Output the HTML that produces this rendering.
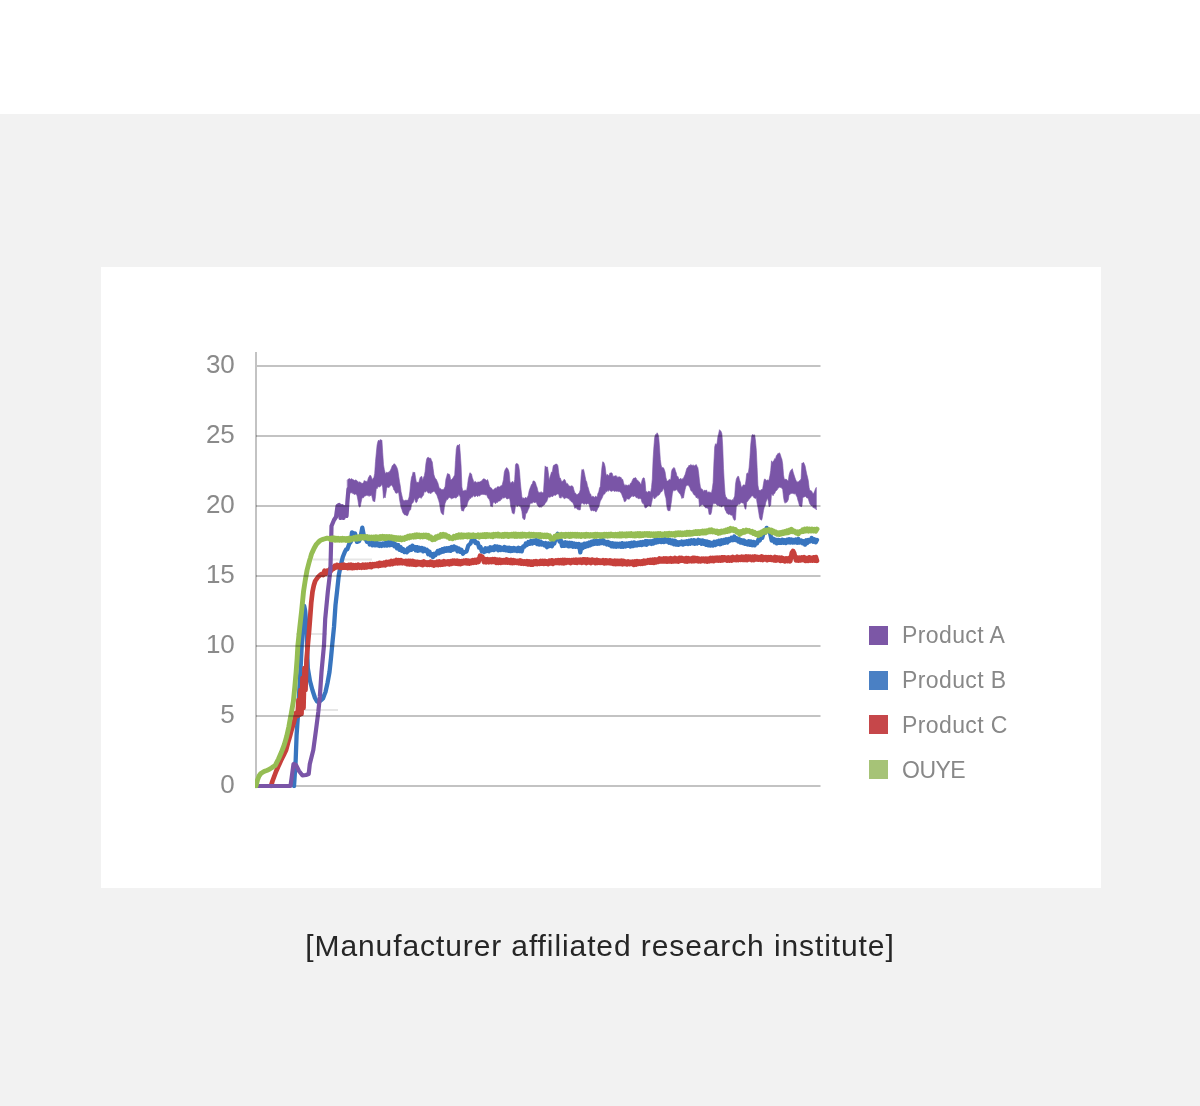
<!DOCTYPE html>
<html>
<head>
<meta charset="utf-8">
<title>Chart</title>
<style>
html,body{margin:0;padding:0;background:#ffffff;}
body{width:1200px;height:1106px;position:relative;overflow:hidden;font-family:"Liberation Sans",sans-serif;}
#band{position:absolute;left:0;top:114px;width:1200px;height:992px;background:#f2f2f2;}
#card{position:absolute;left:101px;top:267px;width:1000px;height:621px;background:#ffffff;}
#chart{position:absolute;left:0;top:0;width:1200px;height:1106px;}
.yl{position:absolute;width:60px;text-align:right;font-size:26px;line-height:30px;height:30px;color:#8a8a8a;left:174.8px;margin-top:-0.2px;}
.lg{position:absolute;left:869px;width:19px;height:19px;}
.lt{position:absolute;left:902px;font-size:23px;line-height:30px;height:30px;color:#888888;white-space:nowrap;letter-spacing:0.4px;margin-top:0.4px;}
#cap{position:absolute;left:0;width:1200px;top:926px;text-align:center;font-size:30px;line-height:40px;color:#262626;white-space:nowrap;letter-spacing:0.9px;}
</style>
</head>
<body>
<div id="band"></div>
<div id="card"></div>
<svg id="chart" width="1200" height="1106" viewBox="0 0 1200 1106">
  <g id="grid" stroke="#c3c3c3" stroke-width="2" fill="none">
    <line x1="256" y1="366" x2="820.5" y2="366"/>
    <line x1="256" y1="786" x2="820.5" y2="786"/>
    <line x1="256" y1="352" x2="256" y2="787"/>
  </g>
  <g id="ghost" stroke="#e6e6e6" stroke-width="2" fill="none">
    <line x1="313" y1="559.5" x2="372" y2="559.5"/>
    <line x1="296" y1="634" x2="327" y2="634"/>
    <line x1="304" y1="710" x2="338" y2="710"/>
  </g>
  <defs><clipPath id="cp"><rect x="255" y="340" width="570" height="448.2"/></clipPath><filter id="bl" x="-5%" y="-5%" width="110%" height="110%"><feGaussianBlur stdDeviation="0.7"/></filter></defs>
  <g id="curves" fill="none" stroke-linejoin="round" stroke-linecap="round" clip-path="url(#cp)" filter="url(#bl)">
    <polyline points="294.0,786.0 294.8,774.0 295.6,762.0 296.6,735.0 297.9,716.0 299.0,695.0 300.5,670.0 302.0,640.0 303.2,615.0 304.2,606.0 305.2,611.0 306.3,625.0 307.8,668.0 310.0,681.0 311.2,685.5 312.4,690.0 313.7,694.0 315.0,698.0 317.0,701.5 318.5,701.2 320.0,701.0 321.5,699.8 323.0,698.5 324.2,695.2 325.5,692.0 327.5,683.0 329.5,672.0 331.0,658.0 332.2,645.0 334.0,627.0 335.5,605.0 337.2,590.0 338.8,575.0 340.8,565.0 342.8,557.0 345.0,551.5 346.1,549.6 347.3,549.2 349.3,543.8 350.8,541.7 352.0,532.4 353.3,533.6 355.0,533.3 357.0,541.9 359.0,541.3 360.5,537.4 362.3,527.7 363.7,534.8 365.0,537.6 367.0,541.8 368.4,540.0 369.7,544.5 371.0,542.1 372.4,545.3 373.7,541.6 375.0,545.4 376.1,542.4 377.2,545.2 378.4,543.4 379.5,545.9 380.6,543.7 381.7,545.9 383.0,543.5 384.4,545.4 385.7,542.9 387.0,545.5 388.3,542.1 389.6,545.3 391.0,542.0 392.3,544.9 393.5,542.6 394.6,546.3 395.8,544.4 397.0,548.3 398.2,545.1 399.4,549.7 400.5,547.0 401.7,550.7 403.0,549.0 404.4,552.1 405.7,550.5 406.8,552.3 407.9,548.4 409.0,550.6 410.1,547.0 411.2,549.9 412.3,545.7 413.4,548.7 414.6,546.9 415.7,550.2 416.9,547.1 418.0,550.8 419.3,547.7 420.6,550.2 421.9,547.9 423.1,551.4 424.4,548.7 425.7,551.1 427.0,549.9 428.2,554.2 429.5,551.6 430.7,555.3 431.8,554.0 433.0,557.1 434.2,553.7 435.5,555.1 437.7,551.0 438.9,553.3 440.1,550.1 441.3,552.2 442.4,549.1 443.6,551.5 444.8,548.5 446.0,550.8 447.1,548.2 448.2,550.5 449.4,548.0 450.5,550.9 451.6,547.0 452.8,549.8 453.9,546.4 455.0,549.2 456.2,547.4 457.5,551.3 458.8,548.5 460.0,551.8 461.4,549.7 462.9,553.7 464.3,552.3 466.5,551.5 468.3,545.5 470.5,543.5 471.8,540.2 473.0,541.1 474.2,539.4 475.5,543.0 477.7,542.7 479.1,547.6 480.5,546.9 481.8,551.5 483.0,549.4 484.2,552.0 485.4,548.3 486.6,551.0 487.8,548.5 489.0,551.2 490.2,547.3 491.4,550.0 492.6,547.5 493.8,550.1 495.0,546.2 496.2,549.3 497.3,546.4 498.5,550.3 499.7,547.0 500.8,550.0 502.0,547.8 503.3,549.9 504.5,547.1 505.8,550.4 507.0,547.7 508.3,550.7 509.4,547.7 510.5,551.1 511.6,548.3 512.8,550.7 513.9,547.9 515.0,550.6 516.1,548.4 517.2,551.1 518.4,547.7 519.5,551.1 520.6,548.3 521.7,551.4 523.1,546.5 524.5,546.7 525.8,543.5 527.0,544.9 528.3,542.1 529.7,543.8 531.0,541.0 532.3,543.6 533.7,540.7 535.0,542.8 536.1,540.0 537.2,544.1 538.4,540.9 539.5,544.5 540.6,541.6 541.7,544.6 543.0,543.1 544.4,545.4 545.7,543.1 547.0,547.2 548.2,543.4 549.5,546.1 550.8,543.4 552.0,546.2 553.2,541.8 554.3,543.4 555.5,538.8 556.6,539.0 557.7,533.8 559.5,541.5 560.8,540.2 562.0,546.0 563.1,542.5 564.3,545.9 565.4,542.3 566.5,545.6 567.6,542.7 568.7,546.4 569.8,542.7 570.9,546.1 572.0,543.0 573.2,546.8 574.3,543.5 575.5,546.8 576.7,544.0 577.8,547.0 579.0,544.0 580.3,552.3 581.7,544.7 583.0,547.9 584.2,543.6 585.5,546.8 586.7,543.4 588.0,546.0 589.2,542.5 590.3,545.2 591.5,541.7 592.7,544.3 593.8,541.3 595.0,543.7 596.1,541.0 597.2,543.8 598.4,541.0 599.5,543.6 600.6,540.3 601.7,543.1 603.0,540.0 604.2,543.5 605.5,541.8 606.7,544.4 608.0,542.0 609.2,545.0 610.3,543.1 611.5,546.4 612.7,543.2 613.8,546.6 615.0,543.6 616.2,546.7 617.3,543.7 618.5,546.4 619.7,543.8 620.8,546.9 622.0,543.1 623.3,546.8 624.5,543.6 625.8,546.4 627.0,543.6 628.3,545.8 629.4,543.3 630.5,546.5 631.6,542.7 632.8,546.1 633.9,542.4 635.0,545.5 636.1,543.1 637.2,545.4 638.4,542.7 639.5,544.9 640.6,542.3 641.7,545.1 643.0,541.9 644.2,544.4 645.5,541.1 646.7,544.8 648.0,541.2 649.2,543.4 650.3,541.3 651.5,543.9 652.7,540.9 653.8,543.4 655.0,540.0 656.2,542.6 657.5,539.4 658.8,541.9 660.0,539.8 661.2,542.0 662.5,539.5 663.8,542.1 665.0,538.9 666.3,541.5 667.6,539.8 668.9,542.7 670.2,540.1 671.5,543.4 672.6,540.5 673.8,544.2 674.9,540.7 676.0,544.6 677.2,542.1 678.3,544.9 679.5,542.3 680.7,544.1 681.9,541.6 683.1,544.6 684.4,541.7 685.6,543.8 686.8,541.2 688.0,544.0 689.1,540.7 690.3,543.7 691.4,540.3 692.6,543.3 693.7,540.1 694.9,543.7 696.0,540.7 697.2,543.5 698.3,539.8 699.4,542.8 700.5,540.5 701.6,543.7 702.8,540.5 703.9,543.9 705.0,541.3 706.1,544.9 707.2,541.5 708.4,545.4 709.5,542.3 710.6,545.5 711.7,543.0 713.0,545.5 714.2,541.8 715.5,544.9 716.7,541.4 718.0,543.9 719.2,540.7 720.3,544.3 721.5,540.2 722.7,543.4 723.8,539.9 725.0,542.8 726.2,539.2 727.5,542.5 728.8,538.9 730.0,540.8 731.4,537.8 732.9,540.2 734.3,536.4 735.6,540.1 736.9,538.3 738.2,541.5 739.5,539.3 740.6,542.6 741.7,540.2 742.8,543.1 743.9,540.5 745.0,543.9 746.2,541.8 747.5,544.4 748.8,541.3 750.0,544.9 751.1,541.5 752.3,545.2 753.4,541.9 754.6,545.4 755.7,542.5 757.1,543.3 758.5,539.3 759.8,540.4 761.0,535.8 762.2,537.8 763.5,533.3 765.5,532.6 766.6,527.9 767.7,529.3 769.7,531.5 771.7,540.6 773.5,538.9 774.6,542.3 775.7,539.7 776.8,543.4 778.0,539.9 779.1,542.9 780.2,540.2 781.4,542.8 782.5,539.8 783.6,542.8 784.7,540.2 785.9,543.1 787.0,539.6 788.1,542.4 789.3,539.3 790.4,542.5 791.5,539.5 792.6,542.6 793.8,539.9 794.9,542.4 796.0,539.5 797.2,542.8 798.3,538.9 799.9,542.6 801.5,540.6 802.7,543.3 803.8,541.2 805.0,544.6 806.2,540.3 807.3,543.1 808.5,539.9 810.1,541.4 811.7,537.9 813.1,541.8 814.5,539.3 815.8,542.3 817.0,539.9" stroke="#3775bf" stroke-width="4.3"/>
    <polyline points="271.0,786.0 272.5,781.0 273.9,777.2 275.3,773.5 276.6,770.2 278.0,767.0 279.4,764.0 280.7,761.0 282.1,758.2 283.5,755.5 284.8,752.8 286.1,750.0 287.3,745.5 288.5,741.0 290.1,735.5 291.6,730.0 292.8,726.0 294.0,722.0 296.0,713.0 297.5,716.0 298.5,700.0 299.5,715.0 300.5,690.0 301.5,714.0 302.5,678.0 303.5,708.0 304.5,668.0 305.5,690.0 306.5,660.0 307.8,645.0 309.0,632.0 310.0,619.0 311.2,603.0 312.5,591.7 313.8,585.5 315.2,581.0 316.6,579.0 318.0,577.0 319.4,575.8 320.7,574.5 322.0,573.8 323.2,575.0 324.5,570.7 325.9,573.8 327.4,570.6 328.8,572.5 330.0,568.9 331.3,570.7 332.5,567.5 333.7,568.8 334.8,565.7 336.0,567.4 337.1,565.0 338.3,567.2 339.4,565.4 340.6,567.9 341.7,565.0 342.9,567.7 344.0,564.7 345.2,567.5 346.4,565.4 347.6,568.0 348.7,564.8 349.9,567.8 351.1,564.8 352.3,568.2 353.5,565.1 354.6,567.9 355.8,565.1 357.0,567.8 358.2,564.8 359.4,567.5 360.5,565.4 361.7,567.7 362.9,564.6 364.2,567.5 365.4,564.6 366.7,567.4 367.9,564.7 369.2,566.7 370.4,564.3 371.5,567.1 372.7,564.2 373.8,566.1 374.9,564.1 376.0,565.8 377.2,563.6 378.3,566.1 379.4,562.8 380.6,565.6 381.7,563.1 382.9,565.2 384.1,562.7 385.3,565.3 386.4,562.0 387.6,564.3 388.8,562.0 390.0,564.4 391.3,560.9 392.5,564.0 393.8,561.0 395.0,563.3 396.3,559.9 397.5,563.3 398.8,560.1 400.0,563.1 401.3,560.3 402.5,563.2 403.8,561.1 405.0,563.4 406.1,560.9 407.2,564.2 408.3,560.8 409.4,564.4 410.6,560.9 411.7,564.3 412.8,561.0 413.9,564.6 415.0,561.8 416.1,564.9 417.2,561.8 418.3,564.2 419.4,562.2 420.6,564.5 421.7,562.1 422.8,565.1 423.9,561.4 425.0,564.4 426.1,562.4 427.2,564.8 428.3,562.4 429.4,564.9 430.6,561.8 431.7,564.7 432.8,562.3 433.9,565.5 435.0,562.4 436.1,564.8 437.2,561.7 438.3,565.1 439.4,561.5 440.6,564.8 441.7,561.8 442.8,564.6 443.9,561.2 445.0,564.3 446.1,561.6 447.2,563.9 448.3,561.4 449.4,564.2 450.6,561.1 451.7,563.9 452.8,560.7 453.9,563.3 455.0,560.8 456.1,563.5 457.2,560.8 458.3,563.9 459.4,561.1 460.6,564.0 461.7,561.2 462.8,563.5 463.9,560.6 465.0,563.1 466.1,560.5 467.2,563.3 468.3,560.6 469.4,563.5 470.6,561.0 471.7,563.0 472.8,560.1 473.9,562.7 475.0,559.9 476.2,562.5 477.3,559.7 478.5,562.0 480.0,555.7 481.0,556.1 482.2,556.6 484.0,562.1 485.2,559.2 486.5,562.2 487.8,559.3 489.0,562.2 490.2,559.4 491.4,562.0 492.6,559.1 493.8,561.9 495.0,559.2 496.2,562.8 497.3,559.7 498.5,562.8 499.6,559.6 500.8,562.7 501.9,560.1 503.1,562.5 504.2,560.1 505.4,562.5 506.5,559.5 507.7,562.6 508.8,560.2 510.0,562.8 511.1,559.9 512.3,563.0 513.4,560.3 514.5,562.9 515.7,560.7 516.8,562.9 518.0,560.9 519.1,563.2 520.2,560.4 521.4,563.6 522.5,561.3 523.6,563.7 524.8,561.4 525.9,563.9 527.0,561.2 528.2,564.3 529.3,561.5 530.5,564.5 531.6,561.7 532.7,564.7 533.9,561.4 535.0,563.9 536.1,561.2 537.2,564.0 538.3,561.6 539.4,563.8 540.6,561.0 541.7,563.6 542.8,561.0 543.9,563.8 545.0,560.9 546.1,563.6 547.2,561.5 548.3,564.1 549.4,560.7 550.6,563.3 551.7,560.3 552.8,563.9 553.9,561.0 555.0,562.9 556.1,560.5 557.2,562.9 558.3,560.2 559.4,563.1 560.6,560.1 561.7,563.1 562.8,560.0 563.9,563.3 565.0,560.0 566.1,562.9 567.2,560.2 568.3,562.3 569.4,560.3 570.6,563.0 571.7,560.1 572.8,562.4 573.9,559.9 575.0,562.5 576.1,559.6 577.3,562.8 578.4,559.8 579.5,562.3 580.7,559.6 581.8,562.8 583.0,559.3 584.1,562.4 585.2,559.4 586.4,563.1 587.5,559.4 588.6,562.3 589.8,560.0 590.9,563.0 592.0,559.6 593.2,562.3 594.3,560.1 595.5,563.0 596.6,559.8 597.7,562.9 598.9,560.4 600.0,562.8 601.1,560.6 602.3,562.8 603.4,560.3 604.5,563.4 605.6,560.3 606.8,563.1 607.9,560.7 609.0,563.1 610.2,560.4 611.3,563.3 612.4,561.0 613.5,563.8 614.7,560.7 615.8,564.0 616.9,560.8 618.1,563.8 619.2,561.0 620.3,563.9 621.5,560.6 622.6,564.3 623.7,561.0 624.8,563.9 626.0,561.7 627.1,564.4 628.2,561.4 629.4,564.0 630.5,561.9 631.6,563.7 632.7,561.6 633.9,564.8 635.0,561.4 636.1,564.5 637.2,561.2 638.3,563.8 639.4,561.5 640.6,563.9 641.7,561.4 642.8,563.7 643.9,560.7 645.0,563.4 646.1,560.9 647.2,562.7 648.3,560.3 649.4,562.6 650.6,559.9 651.7,562.5 652.8,559.7 653.9,562.8 655.0,559.5 656.1,562.3 657.2,559.6 658.3,561.8 659.4,558.5 660.6,561.4 661.7,559.0 662.8,561.4 663.9,558.4 665.0,561.4 666.1,558.5 667.2,561.6 668.3,558.8 669.4,561.4 670.6,558.2 671.7,561.5 672.8,558.7 673.9,561.3 675.0,557.9 676.1,561.3 677.2,558.7 678.3,561.5 679.4,557.8 680.6,560.7 681.7,558.0 682.8,560.6 683.9,558.8 685.0,561.4 686.1,558.1 687.2,561.6 688.3,558.2 689.4,561.1 690.6,558.6 691.7,561.2 692.8,557.8 693.9,561.2 695.0,557.9 696.1,560.8 697.2,558.1 698.3,561.3 699.4,558.8 700.6,561.4 701.7,558.7 702.8,560.8 703.9,558.8 705.0,561.2 706.1,558.7 707.2,561.5 708.3,558.7 709.4,561.2 710.6,557.9 711.7,560.9 712.8,558.0 713.9,561.1 715.0,557.8 716.1,560.3 717.2,557.6 718.3,560.5 719.4,557.7 720.6,560.5 721.7,557.3 722.8,560.4 723.9,557.3 725.0,559.9 726.1,557.8 727.2,560.5 728.3,557.4 729.4,560.6 730.6,557.7 731.7,560.5 732.8,557.0 733.9,559.7 735.0,557.6 736.1,560.1 737.2,556.7 738.3,560.0 739.4,557.2 740.6,559.8 741.7,556.7 742.8,559.8 743.9,556.9 745.0,559.8 746.1,556.5 747.2,560.0 748.3,556.6 749.4,559.4 750.6,556.8 751.7,560.0 752.8,556.7 753.9,560.1 755.0,556.5 756.1,559.3 757.2,556.9 758.3,559.5 759.4,557.2 760.6,559.7 761.7,556.4 762.8,560.0 763.9,557.3 765.0,559.4 766.1,557.1 767.2,560.2 768.3,557.2 769.4,559.6 770.6,557.2 771.7,559.8 772.8,557.9 773.9,560.3 775.0,557.0 776.1,560.6 777.2,557.4 778.3,560.1 779.4,557.7 780.6,560.8 781.7,557.7 782.8,560.7 783.9,558.5 785.0,561.3 786.3,558.4 787.6,561.1 789.0,558.2 790.3,561.2 791.8,552.8 793.0,551.0 794.2,553.2 796.0,560.4 797.1,557.4 798.3,560.5 799.5,557.6 800.7,560.4 801.9,557.5 803.1,560.1 804.4,557.3 805.6,560.9 806.8,558.1 808.0,560.8 809.1,557.3 810.2,560.6 811.4,558.0 812.5,560.6 813.6,557.3 814.8,560.5 815.9,557.1 817.0,560.8" stroke="#c73f3b" stroke-width="4.7"/>
    <polygon points="347.5,479.9 348.3,479.1 349.1,478.7 349.9,478.6 350.7,479.5 351.5,478.6 352.3,479.1 353.1,480.0 353.9,479.8 354.7,480.6 355.5,479.9 356.3,480.0 357.1,481.4 357.9,481.2 358.7,482.7 359.5,481.7 360.3,482.1 361.1,483.4 361.9,482.8 362.7,483.5 363.5,482.4 364.3,480.4 365.1,481.6 365.9,480.8 366.7,482.1 367.5,480.9 368.3,478.1 369.1,476.6 369.9,475.2 370.7,475.6 371.5,477.2 372.3,479.9 373.1,478.3 373.9,477.4 374.7,473.4 375.5,461.5 376.3,452.9 377.1,445.1 377.9,441.5 378.7,440.0 379.5,441.3 380.3,439.4 381.1,440.2 381.9,440.1 382.7,452.8 383.5,464.8 384.3,469.4 385.1,472.6 385.9,473.5 386.7,472.1 387.5,472.7 388.3,472.1 389.1,472.5 389.9,470.7 390.7,470.0 391.5,467.7 392.3,465.6 393.1,465.3 393.9,463.8 394.7,464.1 395.5,464.8 396.3,466.3 397.1,467.9 397.9,470.7 398.7,476.2 399.5,481.5 400.3,486.0 401.1,491.9 401.9,495.4 402.7,498.9 403.5,500.6 404.3,500.8 405.1,500.2 405.9,500.3 406.7,500.3 407.5,500.3 408.3,499.4 409.1,497.0 409.9,491.2 410.7,482.7 411.5,477.3 412.3,475.4 413.1,471.9 413.9,473.3 414.7,472.1 415.5,477.3 416.3,481.9 417.1,482.5 417.9,482.0 418.7,482.9 419.5,479.5 420.3,477.3 421.1,476.5 421.9,476.5 422.7,480.5 423.5,477.3 424.3,475.9 425.1,471.5 425.9,463.6 426.7,459.0 427.5,457.6 428.3,457.3 429.1,458.0 429.9,458.3 430.7,458.2 431.5,460.4 432.3,462.1 433.1,468.6 433.9,474.6 434.7,477.1 435.5,478.8 436.3,479.3 437.1,481.2 437.9,482.9 438.7,486.1 439.5,488.6 440.3,488.4 441.1,488.9 441.9,489.7 442.7,489.6 443.5,489.4 444.3,488.3 445.1,486.6 445.9,479.2 446.7,476.5 447.5,473.5 448.3,474.0 449.1,473.9 449.9,475.6 450.7,479.9 451.5,479.5 452.3,479.1 453.1,477.7 453.9,476.3 454.7,475.0 455.5,460.5 456.3,448.9 457.1,445.5 457.9,445.1 458.7,445.6 459.5,444.1 460.3,454.0 461.1,466.0 461.9,486.9 462.7,490.7 463.5,490.8 464.3,491.1 465.1,489.8 465.9,491.0 466.7,490.0 467.5,485.5 468.3,478.9 469.1,475.8 469.9,472.7 470.7,473.3 471.5,474.0 472.3,477.8 473.1,479.7 473.9,482.4 474.7,481.7 475.5,481.4 476.3,482.4 477.1,482.4 477.9,481.9 478.7,482.0 479.5,482.0 480.3,481.6 481.1,481.2 481.9,480.7 482.7,479.5 483.5,478.7 484.3,478.9 485.1,479.3 485.9,479.9 486.7,480.6 487.5,479.5 488.3,481.4 489.1,484.8 489.9,487.1 490.7,487.6 491.5,488.1 492.3,489.5 493.1,490.0 493.9,489.6 494.7,488.5 495.5,488.0 496.3,488.4 497.1,487.1 497.9,486.6 498.7,486.8 499.5,487.0 500.3,486.3 501.1,485.4 501.9,485.9 502.7,483.0 503.5,479.4 504.3,472.2 505.1,469.8 505.9,468.5 506.7,467.5 507.5,468.4 508.3,469.8 509.1,472.3 509.9,481.2 510.7,483.6 511.5,482.2 512.3,481.4 513.1,481.8 513.9,483.5 514.7,479.6 515.5,464.7 516.3,463.4 517.1,463.7 517.9,463.9 518.7,465.7 519.5,471.2 520.3,481.8 521.1,490.0 521.9,496.7 522.7,498.4 523.5,497.8 524.3,498.7 525.1,497.6 525.9,497.6 526.7,498.2 527.5,497.1 528.3,495.2 529.1,491.0 529.9,488.6 530.7,486.6 531.5,484.5 532.3,483.8 533.1,480.9 533.9,481.0 534.7,481.3 535.5,482.7 536.3,485.6 537.1,487.5 537.9,490.9 538.7,492.5 539.5,492.4 540.3,492.8 541.1,491.6 541.9,492.8 542.7,492.8 543.5,491.9 544.3,478.8 545.1,465.9 545.9,467.2 546.7,467.0 547.5,467.0 548.3,472.4 549.1,480.2 549.9,477.3 550.7,474.8 551.5,472.0 552.3,472.2 553.1,466.6 553.9,465.0 554.7,465.0 555.5,464.1 556.3,464.1 557.1,464.3 557.9,465.7 558.7,472.6 559.5,477.2 560.3,477.9 561.1,480.2 561.9,481.8 562.7,480.9 563.5,480.3 564.3,479.2 565.1,480.1 565.9,482.3 566.7,483.9 567.5,483.4 568.3,485.0 569.1,485.7 569.9,486.2 570.7,486.2 571.5,485.7 572.3,486.0 573.1,486.7 573.9,490.0 574.7,492.4 575.5,493.0 576.3,494.6 577.1,494.5 577.9,494.3 578.7,493.3 579.5,492.3 580.3,489.6 581.1,476.8 581.9,469.4 582.7,469.9 583.5,469.3 584.3,472.4 585.1,476.4 585.9,480.4 586.7,481.8 587.5,485.9 588.3,487.9 589.1,491.0 589.9,493.5 590.7,494.1 591.5,496.9 592.3,496.3 593.1,496.5 593.9,496.7 594.7,497.5 595.5,496.1 596.3,496.8 597.1,497.0 597.9,493.4 598.7,492.0 599.5,488.0 600.3,486.6 601.1,476.6 601.9,467.8 602.7,461.8 603.5,462.1 604.3,463.5 605.1,466.5 605.9,473.3 606.7,476.1 607.5,474.3 608.3,475.4 609.1,475.6 609.9,472.9 610.7,473.0 611.5,472.7 612.3,473.6 613.1,477.2 613.9,475.7 614.7,476.3 615.5,475.7 616.3,475.7 617.1,477.7 617.9,476.5 618.7,477.2 619.5,476.7 620.3,477.3 621.1,477.4 621.9,479.4 622.7,479.3 623.5,482.4 624.3,485.4 625.1,484.6 625.9,485.8 626.7,484.8 627.5,486.0 628.3,484.8 629.1,485.5 629.9,484.5 630.7,482.9 631.5,482.4 632.3,480.4 633.1,478.7 633.9,478.1 634.7,478.1 635.5,477.5 636.3,478.5 637.1,480.4 637.9,480.3 638.7,481.6 639.5,482.0 640.3,483.6 641.1,484.6 641.9,480.8 642.7,478.4 643.5,477.8 644.3,478.1 645.1,482.0 645.9,491.8 646.7,491.6 647.5,492.8 648.3,491.1 649.1,491.8 649.9,491.2 650.7,492.4 651.5,487.4 652.3,478.9 653.1,459.0 653.9,446.7 654.7,437.2 655.5,434.6 656.3,434.6 657.1,432.8 657.9,434.0 658.7,437.1 659.5,447.2 660.3,459.5 661.1,465.1 661.9,467.8 662.7,467.5 663.5,467.8 664.3,469.6 665.1,472.1 665.9,477.5 666.7,480.4 667.5,481.1 668.3,480.8 669.1,479.4 669.9,479.4 670.7,480.0 671.5,471.6 672.3,469.1 673.1,468.6 673.9,467.4 674.7,468.2 675.5,471.1 676.3,473.1 677.1,476.9 677.9,476.3 678.7,478.8 679.5,479.3 680.3,478.5 681.1,478.5 681.9,479.8 682.7,478.4 683.5,478.2 684.3,476.2 685.1,474.5 685.9,471.7 686.7,468.7 687.5,467.6 688.3,466.7 689.1,465.1 689.9,466.1 690.7,464.4 691.5,464.9 692.3,465.7 693.1,464.7 693.9,465.7 694.7,465.8 695.5,465.1 696.3,464.6 697.1,466.4 697.9,467.7 698.7,473.5 699.5,481.1 700.3,486.3 701.1,489.2 701.9,488.8 702.7,489.9 703.5,491.7 704.3,489.9 705.1,491.1 705.9,490.1 706.7,490.2 707.5,492.6 708.3,492.3 709.1,491.6 709.9,492.4 710.7,492.4 711.5,492.7 712.3,488.5 713.1,482.5 713.9,463.0 714.7,446.9 715.5,443.7 716.3,444.8 717.1,443.1 717.9,436.5 718.7,433.5 719.5,429.7 720.3,430.6 721.1,431.6 721.9,433.8 722.7,445.9 723.5,468.3 724.3,483.1 725.1,494.1 725.9,497.2 726.7,497.6 727.5,499.4 728.3,499.2 729.1,500.0 729.9,499.6 730.7,500.0 731.5,500.5 732.3,499.4 733.1,500.4 733.9,497.8 734.7,496.1 735.5,484.2 736.3,479.2 737.1,477.4 737.9,476.2 738.7,476.5 739.5,480.0 740.3,481.9 741.1,486.1 741.9,487.6 742.7,485.8 743.5,484.8 744.3,485.1 745.1,485.3 745.9,481.0 746.7,473.6 747.5,473.0 748.3,473.4 749.1,467.4 749.9,457.7 750.7,445.2 751.5,436.9 752.3,434.6 753.1,434.8 753.9,435.3 754.7,434.8 755.5,441.1 756.3,450.3 757.1,467.5 757.9,485.1 758.7,489.6 759.5,490.3 760.3,490.4 761.1,489.6 761.9,489.7 762.7,488.6 763.5,483.5 764.3,479.3 765.1,478.9 765.9,480.2 766.7,480.5 767.5,479.8 768.3,480.8 769.1,479.3 769.9,475.5 770.7,470.5 771.5,460.8 772.3,462.4 773.1,461.3 773.9,460.7 774.7,458.5 775.5,458.9 776.3,455.7 777.1,454.8 777.9,453.4 778.7,453.4 779.5,452.8 780.3,454.4 781.1,457.2 781.9,459.3 782.7,464.1 783.5,474.8 784.3,479.3 785.1,479.3 785.9,479.3 786.7,479.5 787.5,480.4 788.3,480.7 789.1,475.0 789.9,472.2 790.7,470.4 791.5,469.8 792.3,468.7 793.1,471.9 793.9,474.4 794.7,477.0 795.5,479.3 796.3,481.0 797.1,482.2 797.9,481.4 798.7,482.0 799.5,480.6 800.3,480.3 801.1,478.6 801.9,463.1 802.7,463.2 803.5,462.3 804.3,464.0 805.1,465.9 805.9,470.1 806.7,474.0 807.5,477.1 808.3,480.6 809.1,487.6 809.9,490.6 810.7,490.6 811.5,490.9 812.3,492.4 813.1,493.7 813.9,493.0 814.7,490.9 815.5,488.7 816.3,487.4 816.3,509.9 815.5,508.3 814.7,508.4 813.9,507.5 813.1,507.8 812.3,505.4 811.5,505.9 810.7,504.9 809.9,504.0 809.1,501.6 808.3,498.8 807.5,498.0 806.7,497.9 805.9,496.6 805.1,496.4 804.3,496.9 803.5,497.1 802.7,498.1 801.9,506.2 801.1,506.9 800.3,505.9 799.5,505.9 798.7,502.7 797.9,500.2 797.1,496.9 796.3,495.8 795.5,493.5 794.7,494.1 793.9,493.6 793.1,493.7 792.3,493.2 791.5,493.4 790.7,493.5 789.9,494.7 789.1,494.4 788.3,499.8 787.5,501.2 786.7,502.4 785.9,501.8 785.1,503.3 784.3,501.6 783.5,497.1 782.7,489.6 781.9,488.4 781.1,487.4 780.3,487.4 779.5,487.2 778.7,487.8 777.9,488.5 777.1,490.0 776.3,490.8 775.5,491.5 774.7,493.5 773.9,493.8 773.1,495.8 772.3,494.8 771.5,493.7 770.7,505.3 769.9,506.1 769.1,507.0 768.3,501.2 767.5,498.1 766.7,499.9 765.9,502.2 765.1,505.9 764.3,507.0 763.5,510.4 762.7,515.3 761.9,519.7 761.1,520.3 760.3,519.5 759.5,517.4 758.7,512.0 757.9,507.3 757.1,503.2 756.3,497.4 755.5,498.7 754.7,498.1 753.9,497.7 753.1,496.3 752.3,495.8 751.5,495.9 750.7,497.6 749.9,498.5 749.1,499.0 748.3,500.4 747.5,501.5 746.7,502.1 745.9,509.2 745.1,509.0 744.3,505.8 743.5,502.9 742.7,503.0 741.9,503.1 741.1,502.2 740.3,503.6 739.5,504.3 738.7,503.8 737.9,505.0 737.1,505.7 736.3,506.4 735.5,519.5 734.7,520.5 733.9,519.7 733.1,518.1 732.3,515.0 731.5,515.3 730.7,515.0 729.9,514.4 729.1,514.1 728.3,514.6 727.5,513.5 726.7,513.2 725.9,511.1 725.1,509.9 724.3,506.1 723.5,506.0 722.7,505.9 721.9,506.9 721.1,507.0 720.3,505.8 719.5,506.2 718.7,505.5 717.9,505.5 717.1,505.3 716.3,504.3 715.5,503.5 714.7,503.8 713.9,503.2 713.1,504.0 712.3,506.6 711.5,512.2 710.7,514.6 709.9,514.2 709.1,514.5 708.3,509.0 707.5,508.3 706.7,507.9 705.9,508.0 705.1,507.5 704.3,506.0 703.5,505.5 702.7,504.6 701.9,504.7 701.1,505.5 700.3,505.8 699.5,506.5 698.7,497.8 697.9,498.8 697.1,496.9 696.3,498.0 695.5,495.7 694.7,495.2 693.9,494.7 693.1,493.4 692.3,491.5 691.5,491.3 690.7,490.2 689.9,487.7 689.1,486.5 688.3,485.0 687.5,485.3 686.7,485.5 685.9,486.6 685.1,489.5 684.3,493.2 683.5,497.9 682.7,497.7 681.9,498.6 681.1,496.0 680.3,494.2 679.5,493.6 678.7,492.2 677.9,491.6 677.1,489.8 676.3,489.8 675.5,490.3 674.7,490.8 673.9,490.2 673.1,490.8 672.3,493.9 671.5,501.1 670.7,506.1 669.9,511.1 669.1,510.3 668.3,510.9 667.5,509.8 666.7,505.5 665.9,498.1 665.1,495.4 664.3,491.0 663.5,487.9 662.7,489.9 661.9,491.7 661.1,491.7 660.3,492.9 659.5,494.4 658.7,495.3 657.9,495.5 657.1,496.1 656.3,497.3 655.5,497.6 654.7,499.0 653.9,498.2 653.1,496.1 652.3,499.6 651.5,503.4 650.7,506.7 649.9,506.1 649.1,506.0 648.3,505.7 647.5,506.5 646.7,507.4 645.9,507.8 645.1,508.0 644.3,505.4 643.5,503.5 642.7,503.5 641.9,502.1 641.1,499.0 640.3,498.4 639.5,498.6 638.7,498.7 637.9,498.5 637.1,497.2 636.3,497.9 635.5,496.4 634.7,496.1 633.9,496.1 633.1,497.0 632.3,495.5 631.5,496.6 630.7,497.4 629.9,498.0 629.1,499.4 628.3,498.9 627.5,498.9 626.7,498.6 625.9,500.9 625.1,501.6 624.3,501.7 623.5,498.7 622.7,497.0 621.9,494.8 621.1,493.0 620.3,492.3 619.5,491.6 618.7,491.8 617.9,490.9 617.1,491.6 616.3,491.3 615.5,491.0 614.7,491.4 613.9,491.2 613.1,490.4 612.3,491.0 611.5,491.4 610.7,491.1 609.9,490.7 609.1,489.7 608.3,491.4 607.5,490.3 606.7,492.0 605.9,491.3 605.1,493.5 604.3,494.2 603.5,494.4 602.7,496.6 601.9,498.4 601.1,499.8 600.3,501.2 599.5,504.4 598.7,507.2 597.9,508.2 597.1,510.1 596.3,511.7 595.5,511.8 594.7,510.4 593.9,510.9 593.1,510.7 592.3,510.3 591.5,511.0 590.7,510.2 589.9,507.6 589.1,504.5 588.3,503.7 587.5,503.5 586.7,504.3 585.9,504.1 585.1,503.2 584.3,504.4 583.5,504.0 582.7,503.0 581.9,503.3 581.1,503.8 580.3,509.8 579.5,509.9 578.7,509.8 577.9,509.6 577.1,509.1 576.3,507.8 575.5,507.9 574.7,508.3 573.9,505.1 573.1,503.5 572.3,501.9 571.5,502.0 570.7,500.6 569.9,500.5 569.1,498.5 568.3,499.0 567.5,497.9 566.7,497.8 565.9,498.2 565.1,497.7 564.3,499.1 563.5,497.5 562.7,497.3 561.9,495.7 561.1,498.2 560.3,497.8 559.5,497.7 558.7,494.1 557.9,494.2 557.1,493.7 556.3,494.8 555.5,495.4 554.7,495.2 553.9,494.9 553.1,496.1 552.3,497.0 551.5,495.9 550.7,496.8 549.9,497.5 549.1,497.1 548.3,496.9 547.5,499.6 546.7,501.6 545.9,502.5 545.1,503.4 544.3,505.0 543.5,505.2 542.7,506.3 541.9,505.7 541.1,507.5 540.3,506.7 539.5,507.2 538.7,506.8 537.9,505.9 537.1,504.4 536.3,502.2 535.5,502.2 534.7,503.0 533.9,502.0 533.1,502.1 532.3,503.3 531.5,503.2 530.7,502.9 529.9,504.5 529.1,508.0 528.3,509.5 527.5,511.6 526.7,513.3 525.9,512.9 525.1,518.6 524.3,520.0 523.5,518.7 522.7,518.2 521.9,511.4 521.1,508.4 520.3,505.9 519.5,506.3 518.7,505.5 517.9,505.9 517.1,506.8 516.3,504.9 515.5,505.6 514.7,511.9 513.9,514.2 513.1,513.3 512.3,513.1 511.5,508.9 510.7,506.1 509.9,499.7 509.1,498.3 508.3,498.5 507.5,498.9 506.7,498.9 505.9,497.6 505.1,497.2 504.3,497.9 503.5,498.2 502.7,497.2 501.9,499.3 501.1,499.0 500.3,500.8 499.5,501.0 498.7,501.2 497.9,501.4 497.1,502.9 496.3,501.9 495.5,503.9 494.7,502.6 493.9,502.3 493.1,502.8 492.3,507.1 491.5,506.1 490.7,506.3 489.9,501.3 489.1,499.0 488.3,498.6 487.5,497.2 486.7,494.8 485.9,495.1 485.1,494.7 484.3,494.5 483.5,494.5 482.7,494.3 481.9,494.7 481.1,494.2 480.3,495.4 479.5,496.0 478.7,495.4 477.9,496.5 477.1,496.3 476.3,495.4 475.5,496.4 474.7,496.9 473.9,495.6 473.1,496.0 472.3,497.3 471.5,496.9 470.7,498.5 469.9,498.3 469.1,500.1 468.3,500.9 467.5,503.3 466.7,506.6 465.9,506.2 465.1,507.9 464.3,508.5 463.5,511.2 462.7,510.7 461.9,511.0 461.1,508.4 460.3,497.2 459.5,495.6 458.7,494.3 457.9,496.7 457.1,496.2 456.3,498.0 455.5,498.0 454.7,497.6 453.9,497.9 453.1,498.1 452.3,498.5 451.5,498.8 450.7,498.3 449.9,497.4 449.1,497.6 448.3,498.2 447.5,499.7 446.7,499.4 445.9,501.5 445.1,503.3 444.3,507.4 443.5,514.7 442.7,514.4 441.9,513.7 441.1,512.4 440.3,508.7 439.5,503.6 438.7,500.5 437.9,498.3 437.1,495.7 436.3,494.3 435.5,493.3 434.7,491.7 433.9,491.2 433.1,491.8 432.3,492.2 431.5,492.8 430.7,493.8 429.9,492.6 429.1,493.3 428.3,492.9 427.5,492.3 426.7,490.8 425.9,491.7 425.1,492.2 424.3,491.6 423.5,495.3 422.7,495.9 421.9,497.3 421.1,498.4 420.3,497.5 419.5,497.4 418.7,498.3 417.9,499.1 417.1,501.7 416.3,502.7 415.5,502.1 414.7,498.1 413.9,500.5 413.1,502.5 412.3,503.3 411.5,504.5 410.7,509.7 409.9,510.1 409.1,511.5 408.3,513.9 407.5,515.7 406.7,515.7 405.9,514.9 405.1,515.0 404.3,514.7 403.5,513.6 402.7,512.2 401.9,509.5 401.1,507.6 400.3,503.8 399.5,499.2 398.7,492.7 397.9,492.5 397.1,493.2 396.3,493.3 395.5,492.9 394.7,490.7 393.9,490.1 393.1,487.6 392.3,485.9 391.5,485.1 390.7,485.8 389.9,485.9 389.1,487.6 388.3,487.4 387.5,487.0 386.7,488.0 385.9,493.4 385.1,498.0 384.3,496.4 383.5,498.3 382.7,487.7 381.9,484.0 381.1,485.7 380.3,486.4 379.5,487.0 378.7,486.7 377.9,486.7 377.1,488.8 376.3,488.0 375.5,496.6 374.7,501.9 373.9,500.9 373.1,501.3 372.3,498.2 371.5,494.5 370.7,496.0 369.9,495.2 369.1,496.5 368.3,495.5 367.5,495.6 366.7,495.3 365.9,495.8 365.1,496.0 364.3,496.3 363.5,497.8 362.7,497.8 361.9,498.6 361.1,502.3 360.3,506.6 359.5,507.2 358.7,505.6 357.9,500.1 357.1,495.9 356.3,494.2 355.5,493.9 354.7,494.8 353.9,493.5 353.1,494.1 352.3,492.8 351.5,492.8 350.7,492.8 349.9,493.0 349.1,494.9 348.3,506.7 347.5,517.4" fill="#7a55a7" stroke="#7a55a7" stroke-width="0.6"/>
    <polyline points="256.0,786.0 290.5,786.0 292.0,775.0 293.5,764.0 296.0,765.0 299.0,771.0 302.5,775.5 306.0,775.0 308.7,774.0 309.8,764.0 313.3,750.0 316.0,730.0 318.3,712.0 319.8,697.0 321.5,672.0 324.0,645.0 325.2,619.0 327.8,592.0 330.4,570.0 331.0,547.0 331.5,526.0 334.0,520.0 336.0,517.0 337.5,506.0 339.0,505.0 340.5,518.0 342.0,506.0 343.5,518.0 345.0,507.0 346.5,516.0 347.5,500.0 348.5,489.0" stroke="#7a55a7" stroke-width="4.2"/>
    <polyline points="256.0,786.0 257.5,780.0 259.0,776.0 260.8,773.5 262.4,772.5 264.0,771.5 265.3,771.0 266.7,770.5 268.0,770.0 269.2,769.3 270.3,768.7 271.5,768.0 272.8,767.1 274.0,766.3 275.3,765.4 276.9,762.2 278.5,759.0 280.0,755.5 281.5,752.0 282.9,748.3 284.3,744.6 285.6,740.3 286.8,736.0 288.9,726.5 290.0,720.2 291.2,714.0 293.4,701.2 294.8,687.0 296.1,672.3 297.1,659.0 297.9,645.2 299.7,628.0 301.6,611.0 302.6,601.0 303.5,591.7 305.3,580.0 307.1,570.0 309.3,561.5 310.5,557.6 311.6,553.7 312.8,551.1 314.0,548.5 316.1,544.7 317.3,543.4 318.5,542.0 320.7,540.2 321.8,539.8 322.9,539.4 324.0,539.0 325.5,538.6 327.0,538.2 328.1,538.3 329.3,538.5 330.4,539.6 331.6,538.1 332.7,539.8 333.9,537.9 335.0,540.2 336.1,538.2 337.2,540.1 338.3,538.4 339.4,540.1 340.5,538.6 341.6,540.2 342.8,538.3 343.9,540.0 345.0,538.5 346.1,540.3 347.2,538.5 348.3,540.5 349.4,538.0 350.5,540.1 351.6,538.2 352.8,539.2 353.9,537.7 355.0,539.1 356.1,537.1 357.2,539.1 358.4,536.9 359.5,538.6 360.6,536.5 361.7,537.9 362.8,536.5 363.9,538.1 365.0,536.6 366.1,538.0 367.2,536.6 368.4,538.7 369.5,537.1 370.6,538.6 371.7,537.2 372.8,538.6 373.9,537.2 375.0,539.0 376.1,536.8 377.2,538.9 378.3,537.1 379.4,538.7 380.5,536.6 381.6,538.5 382.8,536.4 383.9,538.5 385.0,536.7 386.1,538.4 387.2,536.5 388.3,538.0 389.4,536.5 390.5,538.1 391.6,536.9 392.8,538.7 393.9,537.4 395.0,539.1 396.1,537.7 397.2,539.5 398.4,537.9 399.5,539.5 400.6,537.9 401.7,539.9 403.0,538.2 404.2,539.3 405.5,537.3 406.7,538.4 408.0,536.2 409.2,537.8 410.3,535.8 411.5,537.2 412.7,535.6 413.8,537.1 415.0,535.1 416.1,536.8 417.2,534.8 418.3,536.4 419.4,535.2 420.5,536.8 421.6,535.3 422.8,536.9 423.9,535.1 425.0,536.6 426.1,535.2 427.2,537.1 428.3,535.3 429.6,538.1 431.0,537.1 432.4,539.8 433.7,538.3 434.8,539.3 435.9,536.9 437.0,538.2 438.3,536.0 439.7,537.2 441.0,534.6 442.2,536.2 443.4,534.3 444.5,536.1 445.7,534.8 447.1,536.9 448.5,536.2 449.8,538.4 451.0,537.7 452.5,538.7 454.0,536.3 455.3,537.8 456.7,535.5 458.0,537.3 459.2,534.9 460.5,537.1 461.8,534.8 463.0,537.0 464.2,535.0 465.3,536.5 466.5,535.1 467.7,536.8 468.8,534.7 470.0,536.9 471.2,535.0 472.4,536.5 473.5,534.9 474.7,536.5 475.9,535.3 477.0,536.5 478.2,534.9 479.4,537.1 480.5,535.0 481.7,536.5 482.8,534.8 483.9,536.5 485.0,534.7 486.1,536.7 487.2,534.5 488.4,536.2 489.5,534.9 490.6,536.3 491.7,534.9 492.8,536.6 493.9,534.4 495.0,535.9 496.1,534.4 497.2,535.9 498.3,534.1 499.4,536.1 500.6,534.8 501.7,536.3 502.8,534.5 503.9,536.3 505.0,534.2 506.1,535.9 507.2,534.4 508.4,536.5 509.5,534.6 510.6,536.0 511.7,534.3 512.8,535.9 513.9,534.2 515.0,536.4 516.1,534.1 517.2,536.4 518.4,534.4 519.5,536.1 520.6,534.4 521.7,536.3 522.8,534.1 523.9,535.9 525.0,534.4 526.1,536.1 527.2,534.6 528.4,535.9 529.5,534.2 530.6,536.2 531.7,534.3 532.8,536.0 533.9,534.4 535.0,535.9 536.1,534.7 537.2,536.0 538.3,534.5 539.4,536.6 540.5,534.6 541.6,536.7 542.8,535.1 543.9,536.6 545.0,535.1 546.1,536.7 547.2,535.1 548.3,536.6 549.6,535.9 551.0,539.1 552.3,538.6 553.5,539.1 554.8,536.4 556.0,537.2 557.1,535.1 558.3,536.9 559.4,534.7 560.6,536.4 561.7,534.4 562.8,536.2 564.0,534.7 565.1,536.4 566.2,534.4 567.3,536.0 568.5,534.4 569.6,536.5 570.7,534.3 571.8,536.2 573.0,534.4 574.1,535.9 575.2,534.4 576.3,536.1 577.5,534.3 578.6,536.1 579.7,534.7 580.9,536.4 582.0,534.6 583.1,536.0 584.2,534.5 585.4,536.5 586.5,534.3 587.6,535.9 588.7,534.7 589.9,536.2 591.0,534.7 592.1,536.0 593.2,534.7 594.4,536.4 595.5,534.2 596.6,536.4 597.7,534.3 598.9,535.9 600.0,534.6 601.1,536.4 602.2,534.7 603.4,536.1 604.5,534.2 605.6,535.9 606.7,534.4 607.9,536.1 609.0,534.2 610.1,535.8 611.2,534.1 612.4,535.7 613.5,534.5 614.6,535.8 615.7,534.4 616.8,535.9 618.0,534.3 619.1,536.0 620.2,533.9 621.3,536.0 622.5,533.9 623.6,535.7 624.7,534.0 625.8,536.0 627.0,533.8 628.1,535.7 629.2,533.7 630.3,535.6 631.5,533.7 632.6,535.8 633.7,534.2 634.8,535.9 635.9,533.7 637.1,535.7 638.2,533.6 639.3,535.9 640.4,533.6 641.6,535.7 642.7,533.7 643.8,535.3 644.9,533.7 646.1,535.2 647.2,533.7 648.3,535.3 649.4,533.6 650.5,535.7 651.6,533.9 652.8,535.5 653.9,533.9 655.0,535.8 656.1,533.7 657.2,535.3 658.3,533.6 659.4,535.4 660.5,533.7 661.7,535.4 662.8,534.0 663.9,535.2 665.0,533.7 666.1,535.2 667.2,533.7 668.3,535.4 669.5,533.3 670.6,535.0 671.7,533.5 672.8,534.8 673.9,533.5 675.0,535.3 676.1,533.0 677.2,534.6 678.4,532.8 679.5,534.7 680.6,532.9 681.7,534.8 682.8,533.0 683.9,534.4 685.0,532.9 686.1,534.5 687.2,532.3 688.4,534.1 689.5,532.2 690.6,534.3 691.7,532.5 692.8,533.8 693.9,532.1 695.0,533.5 696.1,531.7 697.2,533.4 698.4,531.5 699.5,533.5 700.6,531.6 701.7,533.0 702.8,531.2 703.9,532.9 705.0,531.1 706.1,532.9 707.2,530.7 708.4,532.0 709.5,530.0 710.6,531.7 711.7,529.9 713.0,531.8 714.3,530.8 715.7,532.4 717.0,531.1 718.3,533.4 719.4,531.5 720.5,532.9 721.6,531.2 722.8,532.2 723.9,530.8 725.0,532.0 726.1,530.1 727.2,531.5 728.4,529.4 729.5,531.0 730.6,528.4 731.7,530.1 733.0,528.8 734.2,530.8 735.5,529.7 736.9,532.2 738.3,531.6 739.7,534.4 741.0,531.6 742.2,533.0 743.5,530.6 744.9,532.2 746.3,530.1 747.7,531.2 749.1,530.5 750.6,532.2 752.0,531.3 753.3,533.3 754.5,532.4 755.8,534.3 757.0,533.3 758.3,535.6 759.5,532.9 760.6,534.4 761.8,531.8 763.0,532.7 764.2,530.5 765.4,532.2 766.5,530.0 767.7,530.8 768.9,529.6 770.1,531.5 771.3,530.0 772.5,532.6 773.7,531.1 774.8,533.2 776.0,532.2 777.1,534.3 778.3,532.8 779.4,534.4 780.5,532.6 781.6,533.9 782.8,532.0 783.9,533.4 785.0,531.7 786.1,533.0 787.2,530.7 788.4,532.7 789.5,530.0 790.6,531.7 791.7,529.4 793.0,531.8 794.3,531.0 795.7,532.9 797.0,531.8 798.3,534.0 799.9,531.5 801.5,531.7 802.7,529.7 803.8,531.3 805.0,529.1 806.2,530.8 807.4,528.8 808.6,531.1 809.8,529.2 811.0,531.0 812.2,529.0 813.4,530.9 814.6,529.3 815.8,531.1 817.0,529.1" stroke="#95bd52" stroke-width="4.9"/>
  </g>
  <g id="grid2" stroke="#c3c3c3" stroke-width="2" fill="none" style="mix-blend-mode:multiply">
    <line x1="256" y1="436" x2="820.5" y2="436"/>
    <line x1="256" y1="506" x2="820.5" y2="506"/>
    <line x1="256" y1="576" x2="820.5" y2="576"/>
    <line x1="256" y1="646" x2="820.5" y2="646"/>
    <line x1="256" y1="716" x2="820.5" y2="716"/>
  </g>
</svg>
<div class="yl" style="top:349px">30</div>
<div class="yl" style="top:419px">25</div>
<div class="yl" style="top:489px">20</div>
<div class="yl" style="top:559px">15</div>
<div class="yl" style="top:629px">10</div>
<div class="yl" style="top:699px">5</div>
<div class="yl" style="top:769px">0</div>

<div class="lg" style="top:626px;background:#7c57a6"></div>
<div class="lg" style="top:671px;background:#4a80c4"></div>
<div class="lg" style="top:715px;background:#c6474a"></div>
<div class="lg" style="top:760px;background:#a6c377"></div>
<div class="lt" style="top:620px">Product A</div>
<div class="lt" style="top:665px">Product B</div>
<div class="lt" style="top:710px">Product C</div>
<div class="lt" style="top:755px;letter-spacing:-0.5px">OUYE</div>

<div id="cap">[Manufacturer affiliated research institute]</div>
</body>
</html>
